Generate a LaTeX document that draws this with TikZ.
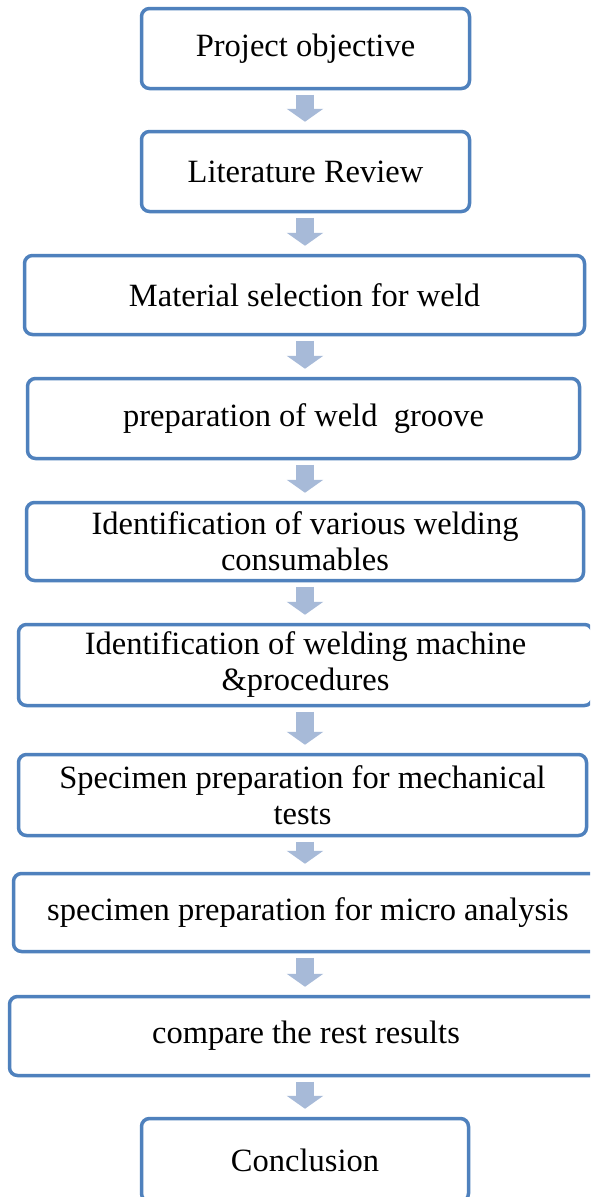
\documentclass[tikz,border=0pt]{standalone}
\usepackage{fontspec}
\setmainfont{Liberation Serif}
\usetikzlibrary{arrows.meta}
\definecolor{boxblue}{RGB}{79,129,189}
\definecolor{arrowblue}{RGB}{167,186,216}
\tikzset{
  stepbox/.style={draw=boxblue, line width=3.5pt, rounded corners=8pt, fill=white,
    align=center, inner sep=0pt, text=black,
    font=\fontsize{32.5}{36}\selectfont},
  fatarrow/.style={draw=arrowblue, line width=18pt,
    -{Triangle[width=36pt,length=13pt,fill=arrowblue]}, shorten <=4.5pt, shorten >=8pt}
}
\begin{document}
\begin{tikzpicture}[x=1pt,y=-1pt]
\useasboundingbox (0,0) rectangle (590,1197);
\clip (0,0) rectangle (590,1197);
\fill[white] (0,0) rectangle (590,1197);
\coordinate (axis) at (305,0);
\node[stepbox, minimum width=328pt, minimum height=80pt] (n1) at (305.5,48.5) {Project objective};
\node[stepbox, minimum width=328pt, minimum height=80pt] (n2) at (305.5,171.5) {Literature Review};
\node[stepbox, minimum width=560pt, minimum height=79pt] (n3) at (304.5,295) {Material selection for weld};
\node[stepbox, minimum width=552pt, minimum height=80pt] (n4) at (303.5,418.5) {preparation of weld~ groove};
\node[stepbox, minimum width=557pt, minimum height=78pt] (n5) at (305,541.5) {Identification of various welding\\consumables};
\node[stepbox, minimum width=574pt, minimum height=81pt] (n6) at (305.5,665) {Identification of welding machine\\\&procedures};
\node[stepbox, minimum width=568pt, minimum height=81pt] (n7) at (302.5,795) {Specimen preparation for mechanical\\tests};
\node[stepbox, minimum width=589pt, minimum height=78pt] (n8) at (308,912.5) {specimen preparation for micro analysis};
\node[stepbox, minimum width=593pt, minimum height=79pt] (n9) at (306,1036) {compare the rest results};
\node[stepbox, minimum width=327pt, minimum height=83pt] (n10) at (305,1160) {Conclusion};
\foreach \a/\b in {n1/n2,n2/n3,n3/n4,n4/n5,n5/n6,n6/n7,n7/n8,n8/n9,n9/n10}
  \draw[fatarrow] (\a.south -| axis) -- (\b.north -| axis);
\end{tikzpicture}
\end{document}
